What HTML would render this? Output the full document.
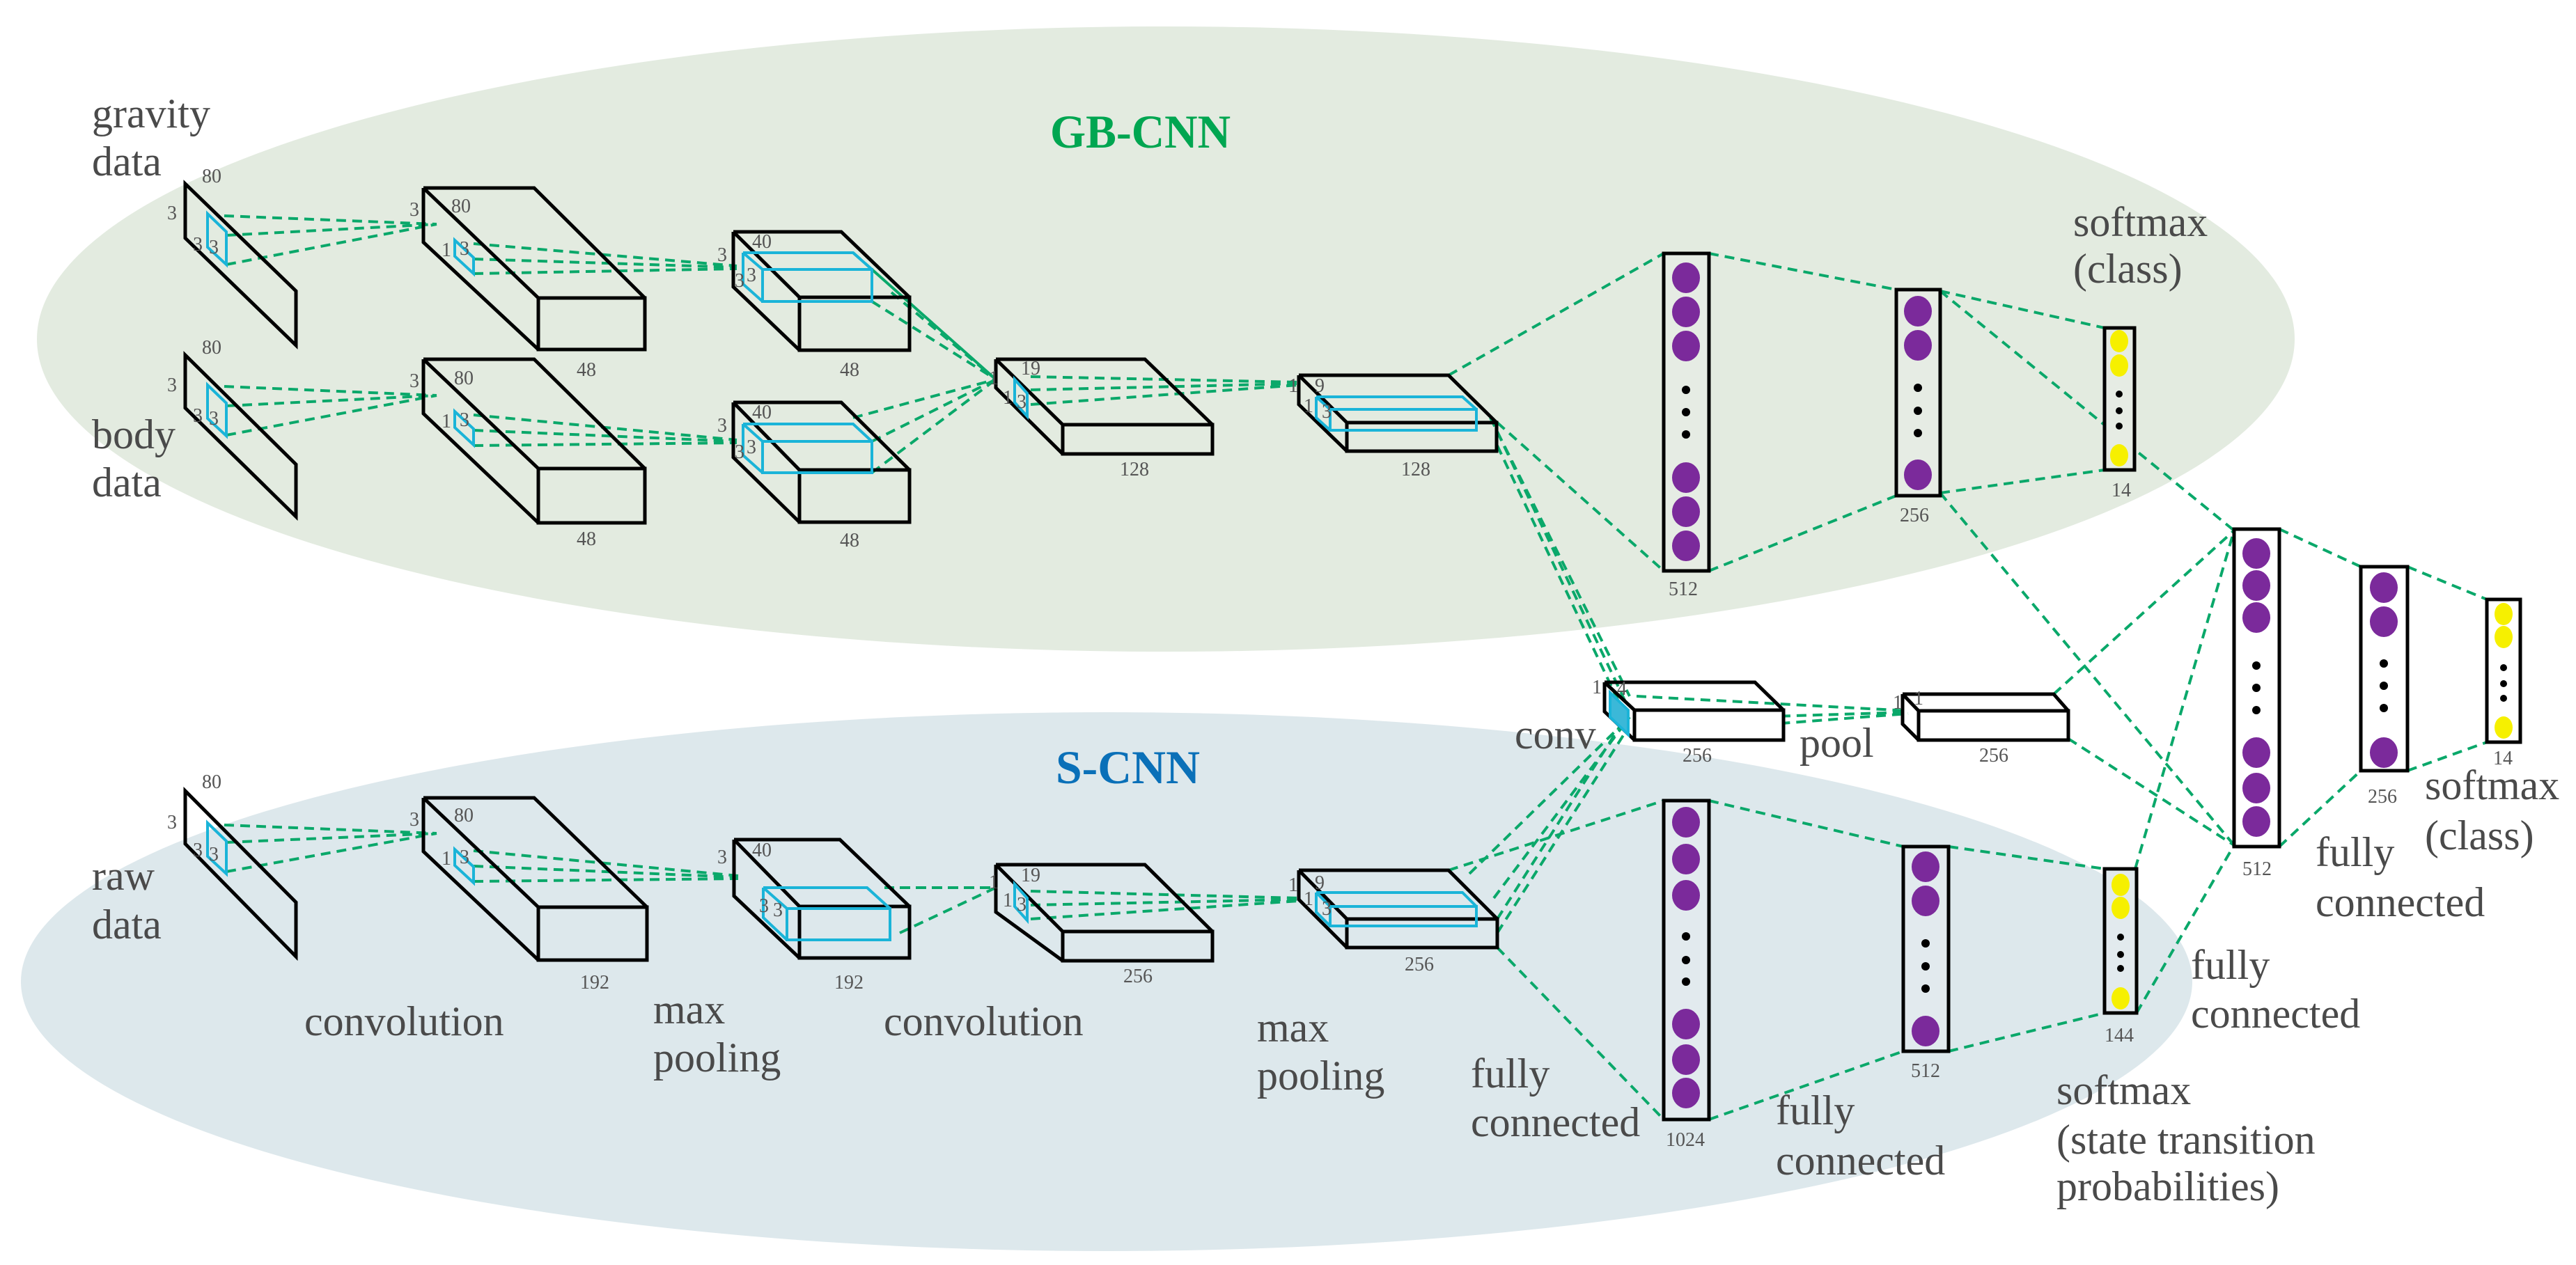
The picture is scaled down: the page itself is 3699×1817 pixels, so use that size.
<!DOCTYPE html>
<html><head><meta charset="utf-8"><style>
html,body{margin:0;padding:0;background:#fff;}
svg{display:block;}
.t{font-family:"Liberation Serif",serif;fill:#4a4a4a;font-size:60px;}
.n{font-family:"Liberation Serif",serif;fill:#555;font-size:28px;}
.b{fill:none;stroke:#000;stroke-width:5;stroke-linejoin:miter;}
.c{fill:none;stroke:#1ab4d8;stroke-width:4;}
.d{fill:none;stroke:#0aa86a;stroke-width:4;stroke-dasharray:14 9;}
.p{fill:#7b2a9b;}
.y{fill:#f6f000;}
.k{fill:#000;}
.col{fill:#e6ece4;stroke:#000;stroke-width:5;}
</style></head><body>
<svg width="3699" height="1817" viewBox="0 0 3699 1817" xmlns="http://www.w3.org/2000/svg">
<rect width="3699" height="1817" fill="#fff"/>
<ellipse cx="1674" cy="487" rx="1621" ry="449" fill="#e3ebe0"/>
<ellipse cx="1589" cy="1410" rx="1559" ry="387" fill="#dde8ec"/>

<text x="1508" y="212" font-family="Liberation Serif,serif" font-weight="bold" font-size="68" fill="#00a651" textLength="259" lengthAdjust="spacingAndGlyphs">GB-CNN</text>
<text x="1516" y="1125" font-family="Liberation Serif,serif" font-weight="bold" font-size="68" fill="#0a70b8" textLength="207" lengthAdjust="spacingAndGlyphs">S-CNN</text>

<g font-family="Liberation Serif, serif" font-size="60" fill="#4a4a4a">
<text class="t" font-family="Liberation Serif, serif" x="132" y="183">gravity</text><text class="t" font-family="Liberation Serif, serif" x="132" y="252">data</text>
<text class="t" font-family="Liberation Serif, serif" x="132" y="644">body</text><text class="t" font-family="Liberation Serif, serif" x="132" y="713">data</text>
<text class="t" font-family="Liberation Serif, serif" x="132" y="1278">raw</text><text class="t" font-family="Liberation Serif, serif" x="132" y="1348">data</text>
<text class="t" font-family="Liberation Serif, serif" x="437" y="1487">convolution</text>
<text class="t" font-family="Liberation Serif, serif" x="938" y="1470">max</text><text class="t" font-family="Liberation Serif, serif" x="938" y="1539">pooling</text>
<text class="t" font-family="Liberation Serif, serif" x="1269" y="1487">convolution</text>
<text class="t" font-family="Liberation Serif, serif" x="1805" y="1496">max</text><text class="t" font-family="Liberation Serif, serif" x="1805" y="1565">pooling</text>
<text class="t" font-family="Liberation Serif, serif" x="2112" y="1562">fully</text><text class="t" font-family="Liberation Serif, serif" x="2112" y="1632">connected</text>
<text class="t" font-family="Liberation Serif, serif" x="2550" y="1615">fully</text><text class="t" font-family="Liberation Serif, serif" x="2550" y="1687">connected</text>
<text class="t" font-family="Liberation Serif, serif" x="2953" y="1586">softmax</text><text class="t" font-family="Liberation Serif, serif" x="2953" y="1657">(state transition</text><text class="t" font-family="Liberation Serif, serif" x="2953" y="1724">probabilities)</text>
<text class="t" font-family="Liberation Serif, serif" x="3146" y="1406">fully</text><text class="t" font-family="Liberation Serif, serif" x="3146" y="1476">connected</text>
<text class="t" font-family="Liberation Serif, serif" x="3325" y="1244">fully</text><text class="t" font-family="Liberation Serif, serif" x="3325" y="1316">connected</text>
<text class="t" font-family="Liberation Serif, serif" x="3482" y="1148">softmax</text><text class="t" font-family="Liberation Serif, serif" x="3482" y="1220">(class)</text>
<text class="t" font-family="Liberation Serif, serif" x="2977" y="339">softmax</text><text class="t" font-family="Liberation Serif, serif" x="2977" y="406">(class)</text>
<text class="t" font-family="Liberation Serif, serif" x="2175" y="1075">conv</text>
<text class="t" font-family="Liberation Serif, serif" x="2584" y="1087">pool</text>
</g>

<g class="d">
<path d="M322 310 L627 322 M325 338 L627 322 M325 380 L627 322"/>
<path d="M680 350 L1058 382 M680 372 L1058 384 M680 393 L1058 386"/>
<path d="M1225 363 L1430 545 M1252 387 L1430 545 M1252 433 L1430 545 M1280 420 L1430 545"/>
<path d="M1480 541 L1865 549 M1480 560 L1865 551 M1480 581 L1865 553"/>
<path d="M322 555 L627 568 M325 583 L627 568 M325 625 L627 568"/>
<path d="M680 596 L1058 632 M680 618 L1058 634 M680 640 L1058 636"/>
<path d="M1225 600 L1430 545 M1252 634 L1430 545 M1252 679 L1430 545"/>
<path d="M322 1185 L627 1197 M325 1210 L627 1197 M325 1252 L627 1197"/>
<path d="M680 1222 L1060 1258 M680 1244 L1060 1260 M680 1266 L1060 1262"/>
<path d="M1270 1275 L1430 1275 M1292 1275 L1430 1275 M1292 1340 L1430 1275"/>
<path d="M1480 1280 L1865 1290 M1480 1300 L1865 1292 M1480 1320 L1865 1294"/>
<path d="M2080 539 L2389 364 M2150 607 L2389 820"/>
<path d="M2140 600 L2340 1000 M2150 620 L2335 1010 M2150 640 L2330 1020"/>
<path d="M2110 1255 L2330 1040 M2150 1320 L2325 1045 M2150 1340 L2335 1050 M2145 1290 L2340 1030"/>
<path d="M2080 1250 L2389 1150 M2150 1361 L2389 1608"/>
<path d="M2350 1000 L2740 1021 M2350 1035 L2740 1023 M2350 1055 L2740 1025"/>
<path d="M2454 364 L2723 416 M2454 820 L2723 712 M2786 418 L3022 471 M2786 708 L3022 675"/>
<path d="M2786 418 L3208 762 M2786 708 L3208 1214"/>
<path d="M2454 1150 L2733 1216 M2454 1608 L2733 1510 M2798 1216 L3022 1248 M2798 1510 L3022 1455"/>
<path d="M3066 1248 L3208 762 M3068 1455 L3208 1214"/>
<path d="M2949 997 L3208 762 M2970 1061 L3208 1214"/>
<path d="M3273 760 L3390 814 M3273 1216 L3390 1107 M3457 814 L3571 861 M3457 1107 L3571 1066"/>
</g>

<g class="b">
<polygon points="266,264 425,418 425,496 266,342"/>
<polygon points="266,510 425,667 425,742 266,586"/>
<polygon points="266,1136 425,1296 425,1374 266,1212"/>
</g>
<g class="c">
<polygon points="298,307 325,333 325,380 298,355"/>
<polygon points="298,553 325,579 325,626 298,601"/>
<polygon points="298,1182 325,1208 325,1255 298,1230"/>
</g>

<g class="b">
<path d="M608 270 H767 L926 428 M608 270 V348 L773 502 M608 270 L773 428"/><rect x="773" y="428" width="153" height="74"/>
<path d="M608 516 H767 L926 673 M608 516 V594 L773 751 M608 516 L773 673"/><rect x="773" y="673" width="153" height="78"/>
<path d="M1053 333 H1208 L1306 427 M1053 333 V412 L1148 503 M1053 333 L1148 427"/><rect x="1148" y="427" width="158" height="76"/>
<path d="M1053 578 H1208 L1306 675 M1053 578 V657 L1148 750 M1053 578 L1148 675"/><rect x="1148" y="675" width="158" height="75"/>
<path d="M1430 516 H1644 L1741 610 M1430 516 V557 L1526 652 M1430 516 L1526 610"/><rect x="1526" y="610" width="215" height="42"/>
<path d="M1865 539 H2080 L2149 607 M1865 539 V581 L1934 648 M1865 539 L1934 607"/><rect x="1934" y="607" width="215" height="41"/>
<path d="M2304 980 H2520 L2561 1020 M2304 980 V1022 L2347 1063 M2304 980 L2347 1020"/><rect x="2347" y="1020" width="214" height="43" fill="#fff"/>
<path d="M2732 997 H2949 L2970 1021 M2732 997 V1040 L2755 1063 M2732 997 L2755 1021"/><rect x="2755" y="1021" width="215" height="42" fill="#fff"/>
<path d="M608 1146 H767 L929 1303 M608 1146 V1223 L773 1379 M608 1146 L773 1303"/><rect x="773" y="1303" width="156" height="76"/>
<path d="M1054 1206 H1206 L1306 1302 M1054 1206 V1287 L1148 1376 M1054 1206 L1148 1302"/><rect x="1148" y="1302" width="158" height="74"/>
<path d="M1430 1242 H1644 L1741 1338 M1430 1242 V1310 L1526 1380 M1430 1242 L1526 1338"/><rect x="1526" y="1338" width="215" height="42"/>
<path d="M1865 1250 H2080 L2150 1320 M1865 1250 V1292 L1934 1361 M1865 1250 L1934 1320"/><rect x="1934" y="1320" width="216" height="41"/>
</g>

<g class="c">
<polygon points="653,345 680,370 680,393 653,368"/>
<polygon points="653,591 680,616 680,639 653,614"/>
<polygon points="653,1220 680,1245 680,1268 653,1243"/>
<path d="M1067 363 H1225 L1252 387 M1067 363 V408 L1095 433 M1067 363 L1095 387"/><rect x="1095" y="387" width="157" height="46"/>
<path d="M1067 609 H1225 L1252 634 M1067 609 V654 L1095 679 M1067 609 L1095 634"/><rect x="1095" y="634" width="157" height="45"/>
<path d="M1096 1275 H1245 L1278 1305 M1096 1275 V1318 L1130 1350 M1096 1275 L1130 1305"/><rect x="1130" y="1305" width="148" height="45"/>
<polygon points="1457,545 1475,565 1475,598 1457,578"/>
<polygon points="1457,1270 1475,1290 1475,1322 1457,1302"/>
<path d="M1890 570 H2100 L2120 588 M1890 570 V600 L1910 618 M1890 570 L1910 588"/><rect x="1910" y="588" width="210" height="30"/>
<path d="M1890 1282 H2100 L2120 1302 M1890 1282 V1310 L1910 1330 M1890 1282 L1910 1302"/><rect x="1910" y="1302" width="210" height="28"/>
<polygon points="2312,995 2338,1020 2338,1055 2312,1030" fill="#3bb8d8"/>
</g>

<g class="n" font-family="Liberation Serif, serif">
<text x="290" y="262">80</text><text x="240" y="315">3</text><text x="277" y="360">3</text><text x="300" y="364">3</text>
<text x="290" y="508">80</text><text x="240" y="562">3</text><text x="277" y="606">3</text><text x="300" y="610">3</text>
<text x="290" y="1132">80</text><text x="240" y="1190">3</text><text x="277" y="1230">3</text><text x="300" y="1236">3</text>
<text x="648" y="305">80</text><text x="588" y="310">3</text><text x="634" y="368">1</text><text x="660" y="366">3</text>
<text x="652" y="552">80</text><text x="588" y="556">3</text><text x="634" y="614">1</text><text x="660" y="612">3</text>
<text x="652" y="1180">80</text><text x="588" y="1186">3</text><text x="634" y="1242">1</text><text x="660" y="1240">3</text>
<text x="828" y="540">48</text><text x="828" y="783">48</text>
<text x="1080" y="356">40</text><text x="1030" y="375">3</text><text x="1072" y="404">3</text><text x="1055" y="412">3</text>
<text x="1080" y="601">40</text><text x="1030" y="620">3</text><text x="1072" y="651">3</text><text x="1055" y="658">3</text>
<text x="1206" y="540">48</text><text x="1206" y="785">48</text>
<text x="1080" y="1230">40</text><text x="1030" y="1240">3</text><text x="1090" y="1310">3</text><text x="1110" y="1316">3</text>
<text x="833" y="1420">192</text><text x="1198" y="1420">192</text>
<text x="1466" y="538">19</text><text x="1420" y="552">1</text><text x="1440" y="580">1</text><text x="1460" y="586">3</text>
<text x="1466" y="1266">19</text><text x="1420" y="1276">1</text><text x="1440" y="1302">1</text><text x="1460" y="1308">3</text>
<text x="1608" y="683">128</text><text x="1613" y="1411">256</text>
<text x="1888" y="563">9</text><text x="1850" y="563">1</text><text x="1872" y="592">1</text><text x="1898" y="600">3</text>
<text x="1888" y="1277">9</text><text x="1850" y="1280">1</text><text x="1872" y="1300">1</text><text x="1898" y="1314">3</text>
<text x="2012" y="683">128</text><text x="2017" y="1394">256</text>
<text x="2286" y="996">1</text><text x="2322" y="998">4</text>
<text x="2416" y="1094">256</text><text x="2842" y="1094">256</text>
<text x="2718" y="1018">1</text><text x="2748" y="1012">1</text>
<text x="2396" y="855">512</text><text x="2728" y="749">256</text><text x="3032" y="713">14</text>
<text x="2392" y="1646">1024</text><text x="2744" y="1547">512</text><text x="3022" y="1496">144</text>
<text x="3220" y="1257">512</text><text x="3400" y="1153">256</text><text x="3580" y="1098">14</text>
</g>

<rect class="col" x="2389" y="364" width="65" height="456"/>
<g class="p"><ellipse cx="2421" cy="399" rx="20" ry="22"/><ellipse cx="2421" cy="448" rx="20" ry="22"/><ellipse cx="2421" cy="497" rx="20" ry="22"/><ellipse cx="2421" cy="686" rx="20" ry="22"/><ellipse cx="2421" cy="735" rx="20" ry="22"/><ellipse cx="2421" cy="784" rx="20" ry="22"/></g>
<g class="k"><circle cx="2421" cy="560" r="6"/><circle cx="2421" cy="592" r="6"/><circle cx="2421" cy="624" r="6"/></g>

<rect class="col" x="2723" y="416" width="63" height="296"/>
<g class="p"><ellipse cx="2754" cy="447" rx="20" ry="22"/><ellipse cx="2754" cy="496" rx="20" ry="22"/><ellipse cx="2754" cy="682" rx="20" ry="22"/></g>
<g class="k"><circle cx="2754" cy="557" r="6"/><circle cx="2754" cy="590" r="6"/><circle cx="2754" cy="622" r="6"/></g>

<rect class="col" x="3022" y="471" width="43" height="204"/>
<g class="y"><ellipse cx="3043" cy="490" rx="13" ry="16"/><ellipse cx="3043" cy="525" rx="13" ry="16"/><ellipse cx="3043" cy="654" rx="13" ry="16"/></g>
<g class="k"><circle cx="3043" cy="566" r="5"/><circle cx="3043" cy="590" r="5"/><circle cx="3043" cy="612" r="5"/></g>

<rect class="col" x="2389" y="1150" width="65" height="458" style="fill:#e2eaee"/>
<g class="p"><ellipse cx="2421" cy="1181" rx="20" ry="22"/><ellipse cx="2421" cy="1234" rx="20" ry="22"/><ellipse cx="2421" cy="1286" rx="20" ry="22"/><ellipse cx="2421" cy="1471" rx="20" ry="22"/><ellipse cx="2421" cy="1522" rx="20" ry="22"/><ellipse cx="2421" cy="1570" rx="20" ry="22"/></g>
<g class="k"><circle cx="2421" cy="1345" r="6"/><circle cx="2421" cy="1379" r="6"/><circle cx="2421" cy="1410" r="6"/></g>

<rect class="col" x="2733" y="1216" width="65" height="294" style="fill:#e2eaee"/>
<g class="p"><ellipse cx="2765" cy="1245" rx="20" ry="22"/><ellipse cx="2765" cy="1294" rx="20" ry="22"/><ellipse cx="2765" cy="1481" rx="20" ry="22"/></g>
<g class="k"><circle cx="2765" cy="1355" r="6"/><circle cx="2765" cy="1388" r="6"/><circle cx="2765" cy="1420" r="6"/></g>

<rect class="col" x="3022" y="1248" width="46" height="207" style="fill:#e2eaee"/>
<g class="y"><ellipse cx="3045" cy="1271" rx="13" ry="16"/><ellipse cx="3045" cy="1304" rx="13" ry="16"/><ellipse cx="3045" cy="1434" rx="13" ry="16"/></g>
<g class="k"><circle cx="3045" cy="1346" r="5"/><circle cx="3045" cy="1371" r="5"/><circle cx="3045" cy="1391" r="5"/></g>

<rect class="col" x="3208" y="760" width="65" height="456" style="fill:#fff"/>
<g class="p"><ellipse cx="3240" cy="795" rx="20" ry="22"/><ellipse cx="3240" cy="841" rx="20" ry="22"/><ellipse cx="3240" cy="887" rx="20" ry="22"/><ellipse cx="3240" cy="1081" rx="20" ry="22"/><ellipse cx="3240" cy="1132" rx="20" ry="22"/><ellipse cx="3240" cy="1180" rx="20" ry="22"/></g>
<g class="k"><circle cx="3240" cy="956" r="6"/><circle cx="3240" cy="988" r="6"/><circle cx="3240" cy="1020" r="6"/></g>

<rect class="col" x="3390" y="814" width="67" height="293" style="fill:#fff"/>
<g class="p"><ellipse cx="3423" cy="844" rx="20" ry="22"/><ellipse cx="3423" cy="893" rx="20" ry="22"/><ellipse cx="3423" cy="1081" rx="20" ry="22"/></g>
<g class="k"><circle cx="3423" cy="953" r="6"/><circle cx="3423" cy="985" r="6"/><circle cx="3423" cy="1017" r="6"/></g>

<rect class="col" x="3571" y="861" width="48" height="205" style="fill:#fff"/>
<g class="y"><ellipse cx="3595" cy="882" rx="13" ry="16"/><ellipse cx="3595" cy="915" rx="13" ry="16"/><ellipse cx="3595" cy="1045" rx="13" ry="16"/></g>
<g class="k"><circle cx="3595" cy="959" r="5"/><circle cx="3595" cy="982" r="5"/><circle cx="3595" cy="1003" r="5"/></g>
</svg>
</body></html>
